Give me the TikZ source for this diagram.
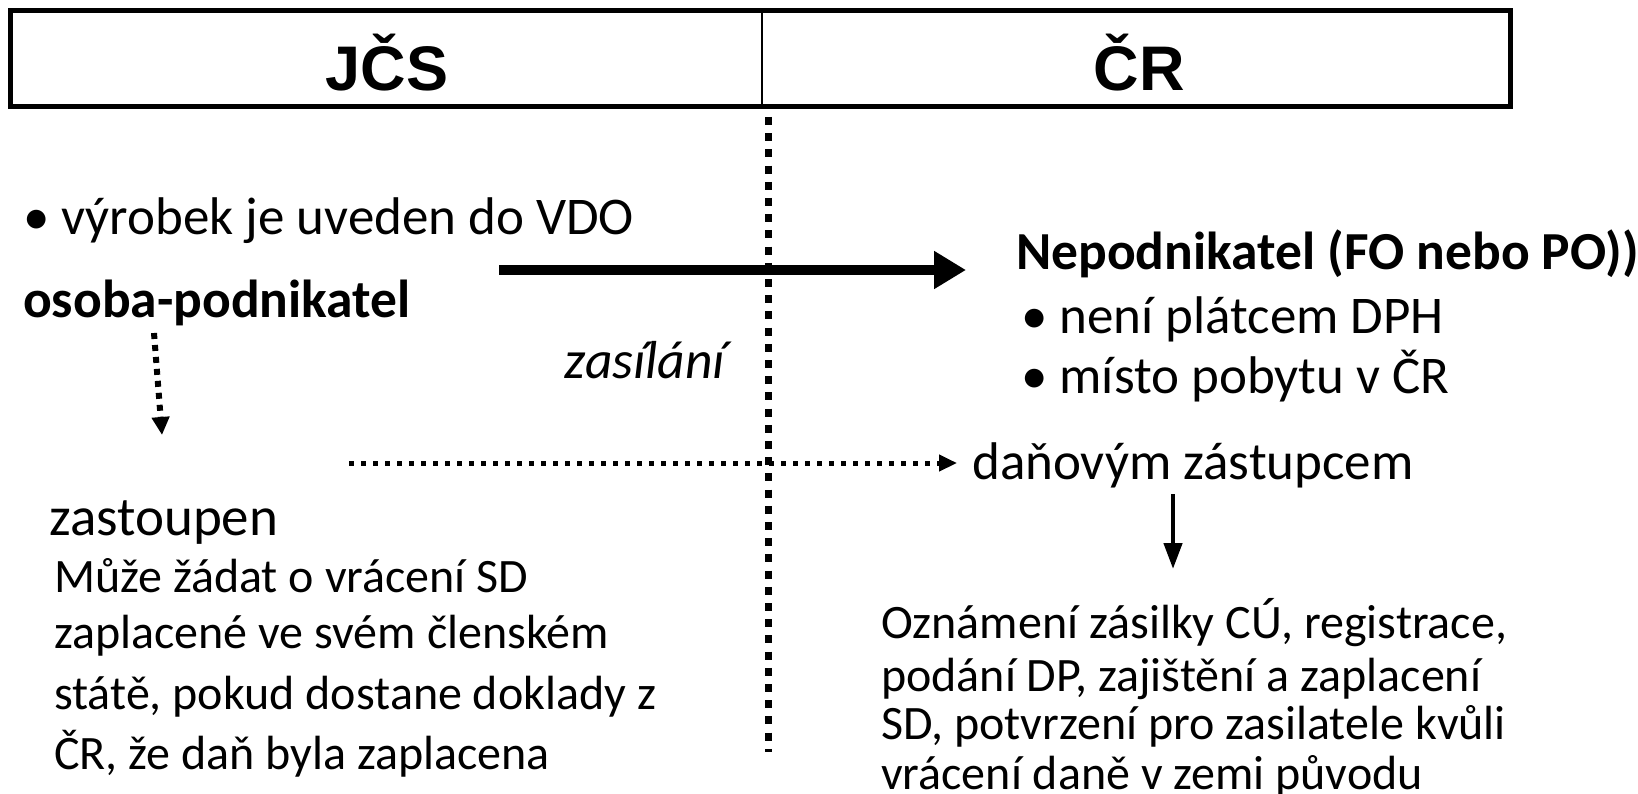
\documentclass[tikz,border=0pt]{standalone}
\usepackage{fontspec}
\setmainfont{Carlito}
\newfontfamily\headfont{Liberation Sans}
\usetikzlibrary{arrows.meta}

\tikzset{
  head/.style={font=\headfont\bfseries\fontsize{63}{70}\selectfont, inner sep=0},
  txt/.style={font=\fontsize{53}{60}\selectfont, anchor=west, inner sep=0},
  btxt/.style={txt, font=\bfseries\fontsize{53.5}{60}\selectfont},
  itxt/.style={txt, font=\itshape\fontsize{53.5}{60}\selectfont, anchor=center},
  ltxt/.style={txt, font=\fontsize{48}{58}\selectfont},
  ptxt/.style={txt, font=\fontsize{48}{55}\selectfont},
  border/.style={draw=black, line width=5pt},
  divider/.style={draw=black, line width=2pt},
  dotline/.style={draw=black, line width=7pt, dash pattern=on 8pt off 8.2pt},
  thickarrow/.style={draw=black, line width=10pt, -{Triangle[length=32pt,width=36pt]}},
  dotarrow/.style={draw=black, line width=5pt, dash pattern=on 5pt off 7pt, -{Triangle[length=18pt,width=16pt]}},
  solidarrow/.style={draw=black, line width=4.5pt, -{Triangle[length=26pt,width=18pt]}}
}

\begin{document}
\begin{tikzpicture}[x=1pt, y=-1pt]
\useasboundingbox (0,0) rectangle (1638,794);
\clip (0,0) rectangle (1638,794);

% header with the two territories
\path[border] (10,11) rectangle (1510,107);
\coordinate (divtop) at (762,11);
\coordinate (divbot) at (762,107);
\path[divider] (divtop) -- (divbot);
\node[head] (jcs) at (387,63) {JČS};
\node[head] (cr) at (1139,63) {ČR};

% border line between the territories
\coordinate (bordtop) at (768.5,117);
\coordinate (bordbot) at (768.5,752);
\path[dotline] (bordtop) -- (bordbot);

% left side: the sender
\node[txt] (vyr) at (23,221) {• výrobek je uveden do VDO};
\node[btxt] (osoba) at (23,303) {osoba-podnikatel};
\node[itxt] (zas) at (645,360) {zasílání};

% right side: the recipient
\node[btxt] (nep) at (1016,254) {Nepodnikatel (FO nebo PO))};
\node[txt] (neni) at (1021,319) {• není plátcem DPH};
\node[txt] (misto) at (1021,376) {• místo pobytu v ČR};

% supply across the border
\coordinate (sendstart) at (499,270);
\coordinate (sendend) at (966,270);
\path[thickarrow] (sendstart) -- (sendend);

% representation
\coordinate (downstart) at (154,333);
\coordinate (downend) at (162,435);
\path[dotarrow, line width=6pt, dash pattern=on 6pt off 6pt, -{Triangle[length=18pt,width=17pt]}] (downstart) -- (downend);

\node[txt] (dan) at (972,465) {daňovým zástupcem};
\coordinate (repstart) at (349,463);
\path[dotarrow, shorten >=15pt] (repstart) -- (dan.west |- repstart);

\node[txt, font=\fontsize{55}{60}\selectfont] (zast) at (49,523) {zastoupen};
\node[ltxt] (l1) at (54,576) {Může žádat o vrácení SD};
\node[ltxt] (l2) at (54,636) {zaplacené ve svém členském};
\node[ltxt] (l3) at (54,697) {státě, pokud dostane doklady z};
\node[ltxt] (l4) at (54,754) {ČR, že  daň byla zaplacena};

% duties of the tax representative
\node[ptxt] (r1) at (881,623) {Oznámení zásilky CÚ, registrace,};
\node[ptxt] (r2) at (881,679) {podání DP, zajištění a zaplacení};
\node[ptxt] (r3) at (881,726) {SD, potvrzení pro zasilatele kvůli};
\node[ptxt] (r4) at (881,776) {vrácení daně v zemi původu};

\coordinate (dutytop) at (1173,494);
\coordinate (dutyend) at (1173,569);
\path[solidarrow] (dutytop) -- (dutyend);
\end{tikzpicture}
\end{document}
